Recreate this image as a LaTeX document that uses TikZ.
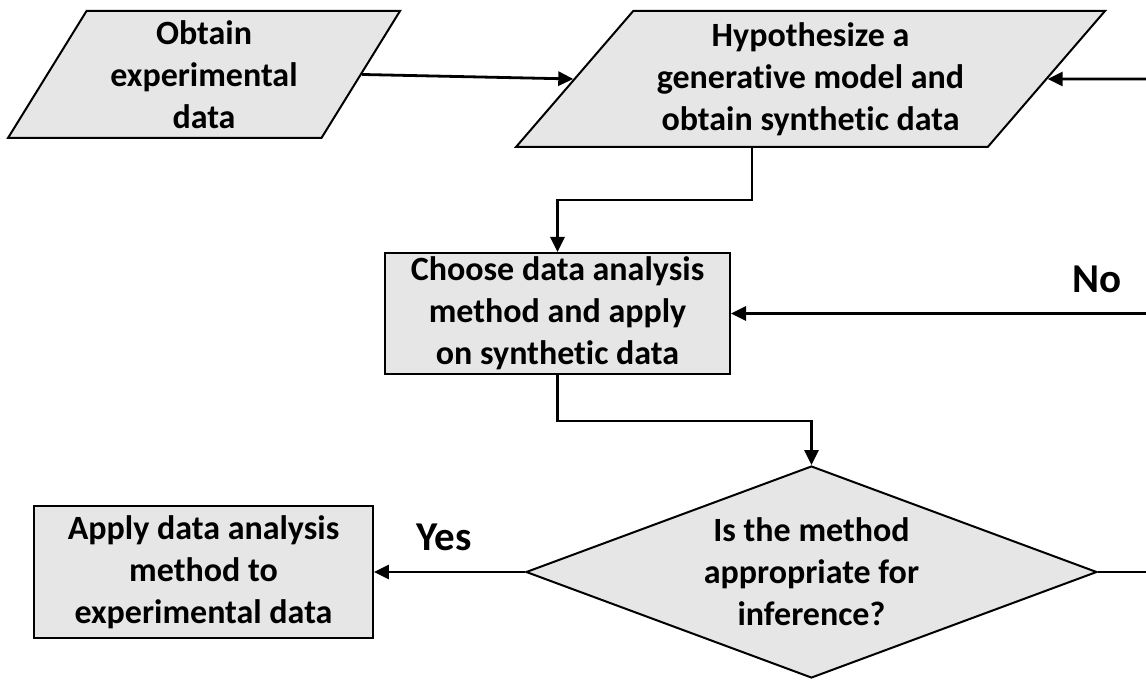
\documentclass[tikz,border=0pt]{standalone}
\usepackage{fontspec}
\setmainfont{Carlito}[Ligatures=NoCommon]
\usepackage{tikz}
\usetikzlibrary{shapes.geometric,arrows.meta,calc}

\definecolor{boxgray}{RGB}{231,230,230}

\begin{document}
\begin{tikzpicture}[
font=\bfseries\fontsize{17pt}{21pt}\selectfont,
box/.style={draw, line width=1pt, fill=boxgray, align=center, inner sep=0pt},
proc/.style={box, rectangle},
io/.style={box, trapezium, trapezium stretches body},
decide/.style={box, diamond, aspect=2.7},
arr/.style={-{Triangle[length=7.5pt,width=7pt]}, line width=1.4pt},
link/.style={line width=1.4pt},
answer/.style={font=\bfseries\fontsize{20.5pt}{24pt}\selectfont}
]
\useasboundingbox (0,0) rectangle (20.139,-11.967);

% Data and model
\node[io, trapezium left angle=54, trapezium right angle=126,
minimum width=6.889cm, minimum height=2.232cm] (obtain) at (3.585,-1.309)
{Obtain\\experimental\\data};
\node[io, trapezium left angle=44, trapezium right angle=136,
minimum width=10.350cm, minimum height=2.390cm] (hyp) at (14.243,-1.388)
{Hypothesize a\\generative model and\\obtain synthetic data};

% Analysis and decision
\node[proc, minimum width=6.063cm, minimum height=2.126cm] (choose) at (9.797,-5.509)
{Choose data analysis\\method and apply\\on synthetic data};
\node[decide, minimum width=10.034cm, minimum height=3.725cm] (ask) at (14.260,-10.052)
{Is the method\\appropriate for\\inference?};
\node[proc, minimum width=5.957cm, minimum height=2.320cm] (apply) at (3.576,-10.052)
{Apply data analysis\\method to\\experimental data};

% Loose ends at the right border
\coordinate (backtop) at (20.139,-1.388);
\coordinate (backmid) at (20.139,-5.509);
\coordinate (backbot) at (20.139,-10.052);

% Flow
\draw[arr] (obtain.east) -- (hyp.west);
\draw[arr] (backtop) -- (hyp.east);
\draw[arr] ([xshift=-29.25pt]hyp.south) -- ++(0,-0.914) -| (choose.north);
\draw[arr] (choose.south) -- ++(0,-0.808) -| (ask.north);
\draw[arr] (ask.west) -- (apply.east);
\draw[link] (ask.east) -- (backbot);
\draw[arr] (backmid) -- (choose.east);

% Answers
\node[answer] (yes) at (7.802,-9.437) {Yes};
\node[answer] (no) at (19.278,-4.903) {No};

\end{tikzpicture}
\end{document}
